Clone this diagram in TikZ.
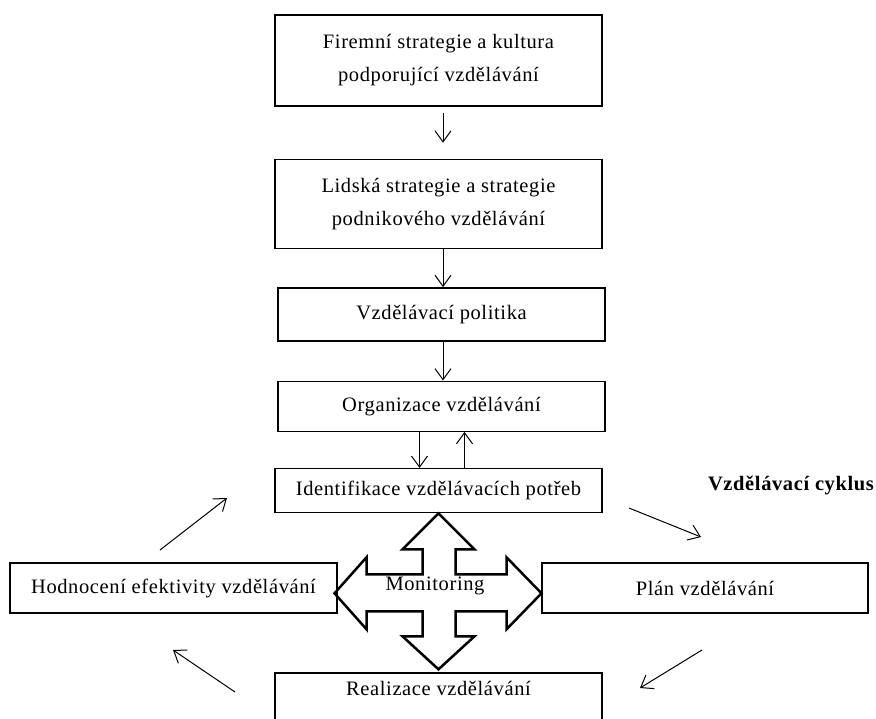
\documentclass[tikz,border=0pt]{standalone}
\usepackage{fontspec}
\setmainfont[LetterSpace=3]{Liberation Serif}
\usepackage{tikz}
\usetikzlibrary{arrows.meta,positioning}

\begin{document}
\begin{tikzpicture}[x=1pt,y=-1pt,>={Straight Barb[length=11pt,width=16pt]},
line width=1pt,font=\fontsize{20.5}{33}\selectfont]
\tikzstyle{box}=[draw=black,line width=1.4pt,minimum width=327pt,align=center,inner sep=0pt]
\tikzstyle{big}=[draw=black,line width=2.5pt,line join=miter]
\useasboundingbox (0,0) rectangle (876,718);
\node[box,minimum height=91pt] (b1) at (438.5,60.5) {Firemní strategie a kultura\\podporující vzdělávání};
\node[box,minimum height=89pt] (b2) [below=52pt of b1] {Lidská strategie a strategie\\podnikového vzdělávání};
\node[box,minimum height=53pt] (b3) [below=38pt of b2,xshift=3pt] {Vzdělávací politika};
\node[box,minimum height=50pt] (b4) [below=39pt of b3] {Organizace vzdělávání};
\node[box,minimum height=44pt] (b5) [below=36pt of b4,xshift=-3pt] {Identifikace vzdělávacích potřeb};
\node[box,text height=15pt,text depth=50pt,inner ysep=7pt] (b8) [below=159pt of b5] {Realizace vzdělávání};
\node[box,minimum height=50pt] (b6) at (173.5,588) {Hodnocení efektivity vzdělávání};
\node[box,minimum width=326pt,minimum height=50pt] (b7) at (705,588) {Plán vzdělávání};
\node (mon) at (435,586) {Monitoring};
\node (cyk) at (791,485) {\bfseries Vzdělávací cyklus};
% sipky cyklu
\coordinate (ne1) at (160,550);
\coordinate (ne2) at (227,498);
\coordinate (se1) at (629,508);
\coordinate (se2) at (701,537);
\coordinate (sw1) at (702,650);
\coordinate (sw2) at (640,688);
\coordinate (nw1) at (235,692);
\coordinate (nw2) at (173,650);
\path[->] ([xshift=4.5pt]b1.south) edge[shorten <=6pt,shorten >=16pt] ([xshift=4.5pt]b2.north)
      ([xshift=4.5pt]b2.south) edge ([xshift=4.5pt]b2.south |- b3.north)
      ([xshift=1.5pt]b3.south) edge ([xshift=1.5pt]b4.north)
      ([xshift=-22pt]b4.south) edge ([xshift=-22pt]b4.south |- b5.north)
      ([xshift=26pt]b5.north) edge ([xshift=26pt]b5.north |- b4.south)
      (ne1) edge (ne2)
      (se1) edge (se2)
      (sw1) edge (sw2)
      (nw1) edge (nw2);
% monitoring
\draw[big] (b5.south) -- ++(36,36) -- ++(-19,0) -- ++(0,25) -- ++(51,0) -- ++(0,-17)
  -- ++(35,36) -- ++(-35,36) -- ++(0,-18) -- ++(-51,0) -- ++(0,25) -- ++(19,0)
  -- ++(-36,33) -- ++(-36,-33) -- ++(20,0) -- ++(0,-25) -- ++(-56,0) -- ++(0,18)
  -- ++(-32,-36) -- ++(32,-36) -- ++(0,17) -- ++(56,0) -- ++(0,-25) -- ++(-20,0) -- cycle;
\end{tikzpicture}
\end{document}
